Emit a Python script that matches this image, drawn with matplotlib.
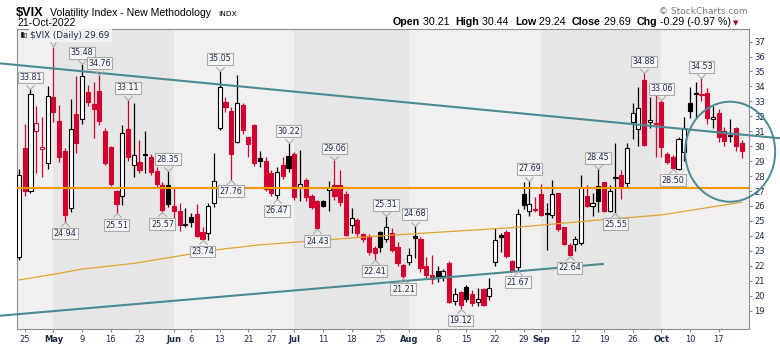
import numpy as np
import matplotlib.pyplot as plt
from matplotlib.path import Path
from matplotlib.patches import Ellipse, Rectangle

plt.rcParams['text.parse_math'] = False
plt.rcParams['font.family'] = 'DejaVu Sans'

# daily OHLC, 22-Apr-2022 .. 21-Oct-2022 (trading day index 0..126)
opens = [22.6, 29.9, 27.0, 31.0, 29.8, 28.85, 33.27, 31.68, 29.68, 25.84,
         32.15, 31.8, 33.64, 32.82, 33.69, 31.01, 29.92, 27.02, 26.67, 31.13,
         28.72, 28.94, 29.45, 29.29, 28.36, 27.38, 27.38, 26.02, 25.66, 24.8,
         25.24, 25.46, 24.28, 24.17, 26.18, 31.24, 32.97, 32.37, 30.28, 32.75,
         30.59, 31.42, 29.2, 29.0, 28.22, 26.75, 28.72, 29.34, 29.47, 27.29,
         27.74, 26.69, 26.33, 26.31, 27.05, 27.4, 27.38, 26.78, 24.71, 25.06,
         24.12, 23.99, 23.17, 24.24, 23.81, 24.21, 23.27, 22.05, 22.27, 24.0,
         23.79, 21.98, 21.38, 21.65, 21.29, 22.2, 19.66, 20.22, 20.6, 20.11,
         19.6, 20.42, 20.0, 22.27, 24.06, 24.26, 22.32, 21.94, 26.8, 25.66,
         25.75, 26.8, 25.5, 25.39, 26.85, 24.57, 23.39, 23.45, 23.54, 26.69,
         26.0, 27.36, 27.58, 25.66, 27.88, 28.07, 27.56, 31.64, 31.13, 34.42,
         31.62, 31.5, 32.97, 29.47, 29.25, 28.49, 29.63, 32.91, 33.5, 33.45,
         33.53, 31.8, 32.2, 31.01, 30.65, 31.19, 30.21]
highs = [28.5, 31.5, 33.81, 32.7, 31.97, 34.02, 36.64, 32.75, 29.9, 33.13,
         34.69, 35.48, 34.09, 34.31, 34.76, 31.2, 30.0, 27.1, 31.42, 33.11,
         32.91, 30.4, 31.0, 29.5, 28.6, 27.6, 28.35, 27.3, 26.17, 25.88,
         25.5, 26.1, 24.6, 26.2, 29.52, 35.05, 33.3, 32.6, 34.76, 32.9,
         30.6, 31.5, 29.68, 29.3, 28.4, 28.6, 29.3, 30.22, 29.6, 29.74,
         27.9, 26.8, 26.4, 26.4, 27.67, 29.06, 28.4, 27.0, 25.84, 25.2,
         24.2, 24.1, 23.3, 24.3, 25.31, 24.5, 23.6, 22.1, 23.16, 24.68,
         23.9, 22.6, 22.7, 22.0, 21.8, 22.3, 20.5, 20.3, 20.7, 20.4,
         20.5, 20.5, 21.16, 24.5, 24.2, 24.4, 22.4, 25.8, 27.62, 27.69,
         26.62, 27.5, 26.17, 27.73, 26.9, 24.6, 23.5, 24.0, 28.07, 27.4,
         26.9, 28.45, 27.6, 27.4, 30.19, 28.4, 30.2, 32.9, 33.98, 34.88,
         33.3, 34.09, 33.06, 29.6, 29.4, 30.6, 31.93, 33.98, 34.31, 34.53,
         33.9, 32.7, 32.5, 31.3, 31.82, 31.3, 30.44]
lows = [22.4, 26.7, 26.9, 28.2, 27.92, 28.45, 31.64, 28.96, 24.94, 25.62,
        29.52, 31.5, 32.7, 30.57, 31.4, 28.74, 27.33, 25.51, 26.06, 29.0,
        27.96, 28.2, 28.22, 28.07, 27.2, 25.57, 25.9, 25.2, 24.3, 24.61,
        24.6, 23.9, 23.74, 23.72, 25.95, 31.1, 32.3, 27.76, 30.19, 30.8,
        29.25, 28.7, 28.63, 27.0, 26.7, 26.47, 27.8, 28.3, 26.4, 26.3,
        26.3, 25.8, 24.43, 25.9, 25.68, 26.4, 26.0, 24.0, 24.21, 24.0,
        23.6, 22.7, 22.41, 22.9, 23.6, 22.9, 22.0, 21.21, 22.05, 22.5,
        21.6, 21.2, 20.8, 20.9, 21.0, 19.5, 19.4, 19.12, 19.6, 19.3,
        19.3, 19.3, 19.7, 22.0, 22.94, 22.5, 21.7, 21.67, 25.8, 25.3,
        25.6, 25.3, 23.05, 25.2, 24.3, 23.4, 22.64, 23.0, 23.4, 25.9,
        25.3, 25.6, 25.6, 25.6, 25.55, 26.5, 27.3, 30.5, 30.0, 30.0,
        31.2, 29.29, 29.3, 28.8, 28.5, 28.4, 29.0, 31.9, 31.9, 33.0,
        31.5, 31.2, 30.3, 30.0, 30.3, 29.7, 29.24]
closes = [28.1, 27.0, 33.5, 31.55, 29.95, 33.35, 32.3, 29.25, 25.4, 31.13,
          30.19, 34.69, 32.95, 32.5, 31.7, 28.87, 27.47, 26.1, 30.9, 29.3,
          29.4, 28.4, 29.4, 28.3, 27.45, 25.7, 26.15, 25.65, 24.7, 24.75,
          24.95, 24.0, 23.8, 25.99, 27.65, 33.93, 32.6, 29.5, 32.87, 31.05,
          30.14, 28.9, 29.0, 27.15, 26.85, 28.25, 28.0, 28.56, 26.58, 27.47,
          26.62, 25.95, 24.5, 26.02, 27.18, 26.67, 26.28, 24.06, 25.17, 24.21,
          23.77, 22.9, 22.87, 23.23, 24.57, 23.05, 22.2, 21.3, 22.72, 23.85,
          21.85, 21.35, 21.1, 21.2, 21.63, 19.6, 20.09, 19.4, 19.78, 19.49,
          19.78, 19.37, 20.49, 23.72, 23.94, 22.65, 21.75, 25.46, 26.06, 26.13,
          25.78, 25.39, 25.45, 26.8, 24.46, 23.45, 22.7, 23.77, 27.29, 26.02,
          26.18, 26.3, 25.66, 27.02, 27.91, 27.29, 29.85, 32.19, 32.53, 30.08,
          31.75, 31.55, 29.97, 28.96, 28.55, 30.47, 31.24, 32.37, 33.53, 33.49,
          31.86, 31.93, 30.63, 30.36, 30.7, 29.98, 29.69]

tick_pos = [1, 6, 11, 16, 21, 27, 30, 35, 40, 44, 48, 53, 58, 63, 68, 73,
            78, 83, 88, 91, 97, 102, 107, 112, 117, 122]
tick_lab = ['25', 'May', '9', '16', '23', 'Jun', '6', '13', '21', '27', 'Jul',
            '11', '18', '25', 'Aug', '8', '15', '22', '29', 'Sep', '12', '19',
            '26', 'Oct', '10', '17']
months = ['May', 'Jun', 'Jul', 'Aug', 'Sep', 'Oct']
month_bands = [(6, 27), (48, 68), (91, 112)]

peak_idx = [2, 11, 14, 19, 26, 35, 47, 55, 64, 69, 89, 101, 109, 112, 119]
peak_val = [33.81, 35.48, 34.76, 33.11, 28.35, 35.05, 30.22, 29.06,
            25.31, 24.68, 27.69, 28.45, 34.88, 33.06, 34.53]
hidden_peak = (6, 36.64)   # its callout sits under the legend strip
trough_idx = [8, 17, 25, 32, 37, 45, 52, 62, 67, 77, 87, 96, 104, 114]
trough_val = [24.94, 25.51, 25.57, 23.74, 27.76, 26.47, 24.43, 22.41, 21.21,
              19.12, 21.67, 22.64, 25.55, 28.50]

# 200-day moving average
ma_idx = [0, 6, 11, 20, 27, 34, 42, 63, 86, 101, 112, 126]
ma_val = [21.05, 21.43, 21.78, 22.16, 22.6, 23.05, 23.4, 24.0, 24.55, 25.06,
          25.4, 26.25]

support_level = 27.22
upper_x, upper_y = [-3.3, 132.7], [35.54, 30.53]
lower_x, lower_y = [-3.3, 101.8], [18.66, 22.12]

RED = '#d2002f'
TEAL = '#4a8a94'
NAVY = '#1c2b4a'
W, H = 780, 345

fig = plt.figure(figsize=(7.8, 3.45), dpi=100)
ax = fig.add_axes([16.5 / W, 16 / H, 732 / W, 300 / H])
ax.set_facecolor('#f0f0f0')
ax.set_xlim(-0.44, 127.2)
ax.set_ylim(17.77, 37.84)

for a, b in month_bands:
    ax.axvspan(a, b, color='#e6e6e6', lw=0, zorder=0)

o, h, l, c = map(np.array, (opens, highs, lows, closes))
x = np.arange(len(c))
prev = np.r_[o[0], c[:-1]]
up_day = c >= prev
col = np.where(up_day, 'black', RED)
hollow = c >= o

ax.vlines(x, l, h, colors=col, lw=0.9, zorder=3)
bot = np.minimum(o, c)
ht = np.maximum(np.abs(c - o), 0.07)
fc = [('white' if hol else cc) for hol, cc in zip(hollow, col)]
ax.bar(x, ht, bottom=bot, width=0.72, color=fc, edgecolor=col, lw=0.8, zorder=4)

ax.plot(ma_idx, ma_val, color='#e3a12f', lw=0.9, zorder=5)
ax.axhline(support_level, color='#f29a00', lw=1.5, zorder=5)
ax.plot(upper_x, upper_y, color=TEAL, lw=1.5, zorder=6, clip_on=False)
ax.plot(lower_x, lower_y, color=TEAL, lw=1.5, zorder=6, clip_on=False)
ax.add_patch(Ellipse((124.0, 29.63), 15.7, 6.69, fill=False, ec=TEAL, lw=1.4,
                     zorder=6, clip_on=False))

v_up = Path([(-1, 1), (0, 0), (1, 1)], [Path.MOVETO, Path.LINETO, Path.LINETO])
v_dn = Path([(-1, -1), (0, 0), (1, -1)], [Path.MOVETO, Path.LINETO, Path.LINETO])
box = dict(boxstyle='square,pad=0.18', fc='#f6f6f6', ec='#a9a9a9', lw=0.8)
for i, v in zip(peak_idx, peak_val):
    ax.annotate(f'{v:.2f}', (i, v), xytext=(0, 5.2), textcoords='offset points',
                ha='center', va='bottom', fontsize=5.8, color=NAVY, bbox=box,
                zorder=8, annotation_clip=False)
    ax.plot(i, v, marker=v_up, ms=6, mfc='none', mec='#a9a9a9', mew=0.8,
            zorder=8, clip_on=False)
for i, v in zip(trough_idx, trough_val):
    ax.annotate(f'{v:.2f}', (i, v), xytext=(0, -5.2), textcoords='offset points',
                ha='center', va='top', fontsize=5.8, color=NAVY, bbox=box,
                zorder=8, annotation_clip=False)
    ax.plot(i, v, marker=v_dn, ms=6, mfc='none', mec='#a9a9a9', mew=0.8,
            zorder=8, clip_on=False)

# callout outline (box with notch) for the peak hidden under the legend
callout = Path([(-12, 12), (-12, 6), (-3, 6), (0, 0), (3, 6), (12, 6), (12, 12)],
               [Path.MOVETO] + [Path.LINETO] * 6)
ax.plot(*hidden_peak, marker=callout, ms=20, mfc='none', mec='#a9a9a9', mew=0.8,
        zorder=8, clip_on=False)

# legend strip in the top left of the plot
ax.text(0.019, 0.994, '$VIX (Daily) 29.69', transform=ax.transAxes, ha='left',
        va='top', fontsize=6.3, color=NAVY, zorder=10,
        bbox=dict(boxstyle='square,pad=0.2', fc='#f2f2f2', ec='none'))
ax.add_patch(Rectangle((0.0065, 0.972), 0.0028, 0.017, transform=ax.transAxes,
                       fc='black', ec='black', lw=0.4, zorder=11))
ax.add_patch(Rectangle((0.0108, 0.974), 0.0028, 0.013, transform=ax.transAxes,
                       fc='white', ec='black', lw=0.4, zorder=11))

for s in ax.spines.values():
    s.set_color('#8c8c8c')
    s.set_linewidth(0.8)

ax.yaxis.tick_right()
ax.set_yticks(range(19, 38))
ax.set_xticks(tick_pos)
ax.set_xticklabels(tick_lab)
for t in ax.get_xticklabels():
    if t.get_text() in months:
        t.set_fontweight('bold')
        t.set_fontsize(6.4)
ax.tick_params(axis='y', labelsize=6, colors=NAVY, length=2.5, pad=1.5,
               color='#8c8c8c')
ax.tick_params(axis='x', labelsize=6, colors=NAVY, length=2.5, pad=1.5,
               color='#8c8c8c')

# header
fig.text(16 / W, 1 - 15.5 / H, '$VIX', fontsize=9.2, fontweight='bold',
         color='black', va='baseline', family='Liberation Sans')
fig.text(50 / W, 1 - 15.5 / H, 'Volatility Index - New Methodology',
         fontsize=7.6, color='black', va='baseline', family='Liberation Sans')
fig.text(218 / W, 1 - 15.5 / H, 'INDX', fontsize=5.4, color='black',
         va='baseline')
fig.text(17 / W, 1 - 26 / H, '21-Oct-2022', fontsize=7.5, color='black',
         va='baseline', family='Liberation Sans')
fig.text(748 / W, 1 - 13.5 / H, '\u00a9 StockCharts.com', fontsize=6.5,
         color='#777777', ha='right', va='baseline')

renderer = fig.canvas.get_renderer()
pieces = [('Open', True), (' 30.21  ', False), ('High', True), (' 30.44  ', False),
          ('Low', True), (' 29.24  ', False), ('Close', True), (' 29.69  ', False),
          ('Chg', True), (' -0.29 (-0.97 %)', False)]
xp = 393
for s, bold in pieces:
    t = fig.text(xp / W, 1 - 25 / H, s.replace(' ', '\u00a0'), fontsize=7.7,
                 fontweight='bold' if bold else 'normal', color='black',
                 va='baseline', family='Liberation Sans')
    xp += t.get_window_extent(renderer).width
fig.text((xp + 2) / W, 1 - 25 / H, '\u25bc', fontsize=5, color='#a0001e',
         va='baseline')

fig.savefig('out.png', dpi=100)
